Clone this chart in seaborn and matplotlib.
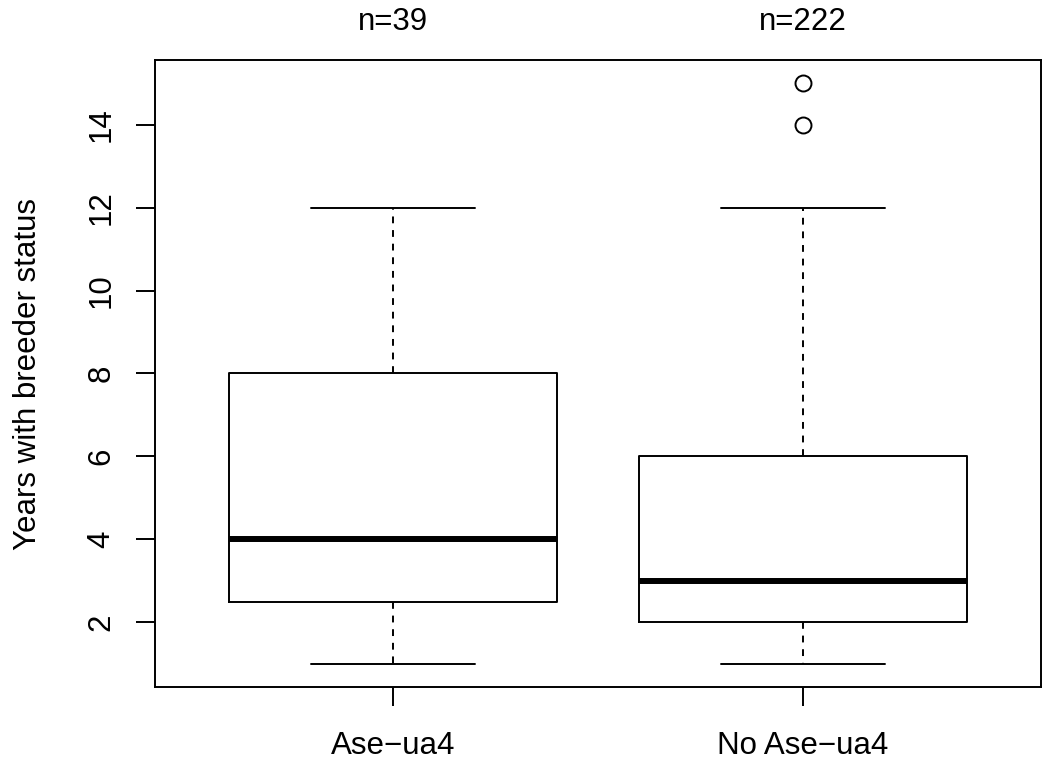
import matplotlib
matplotlib.use("Agg")
import matplotlib.pyplot as plt
import matplotlib.transforms as mtransforms
import seaborn as sns

groups = ["Ase\u2212ua4", "No Ase\u2212ua4"]
counts = [39, 222]
whislo = [1, 1]
q1 = [2.5, 2]
median = [4, 3]
q3 = [8, 6]
whishi = [12, 12]
fliers = [[], [14, 15]]
yticks = [2, 4, 6, 8, 10, 12, 14]

sns.set_style("ticks")
plt.rcParams['font.family'] = ['Liberation Sans', 'DejaVu Sans']
plt.rcParams['text.color'] = 'black'
plt.rcParams['axes.labelcolor'] = 'black'
plt.rcParams['xtick.color'] = 'black'
plt.rcParams['ytick.color'] = 'black'
FS = 22.5

fig = plt.figure(figsize=(10.42, 7.63), dpi=100)
ax = fig.add_axes([155/1042, 1-687/763, 886/1042, 627/763])

stats = []
for i in range(len(groups)):
    stats.append(dict(label=groups[i], whislo=whislo[i], q1=q1[i], med=median[i],
                      q3=q3[i], whishi=whishi[i], fliers=fliers[i]))

lw = 1.4
ax.bxp(stats, positions=[1, 2], widths=0.8, capwidths=0.4, showfliers=True,
       boxprops=dict(color='black', linewidth=lw),
       whiskerprops=dict(color='black', linewidth=lw, linestyle=(0, (3.5, 3.5))),
       capprops=dict(color='black', linewidth=lw),
       medianprops=dict(color='black', linewidth=4.3, solid_capstyle='butt'),
       flierprops=dict(marker='o', markerfacecolor='none', markeredgecolor='black',
                       markersize=11.5, markeredgewidth=1.4, linestyle='none'))

ax.set_xlim(0.42, 2.58)
ax.set_ylim(0.44, 15.56)
ax.set_yticks(yticks)
ax.set_yticklabels([str(v) for v in yticks], rotation=90, va='center', fontsize=FS, color='black')
ax.set_xticks([1, 2])
ax.set_xticklabels(groups, fontsize=FS, color='black')
ax.tick_params(axis='both', length=13.7, width=lw, color='black', direction='out')
ax.tick_params(axis='x', pad=18)
ax.tick_params(axis='y', pad=14)
for s in ax.spines.values():
    s.set_visible(True)
    s.set_linewidth(lw)
    s.set_color('black')

ax.set_ylabel("Years with breeder status", fontsize=FS, color='black')
ax.yaxis.set_label_coords(-0.126, 0.5)

trans = mtransforms.blended_transform_factory(ax.transData, ax.transAxes)
for i, n in enumerate(counts):
    ax.text(i + 1, 1 + 38/627, f"n={n}", transform=trans, ha='center', va='center',
            fontsize=FS, color='black')

fig.savefig("out.png", dpi=100)
